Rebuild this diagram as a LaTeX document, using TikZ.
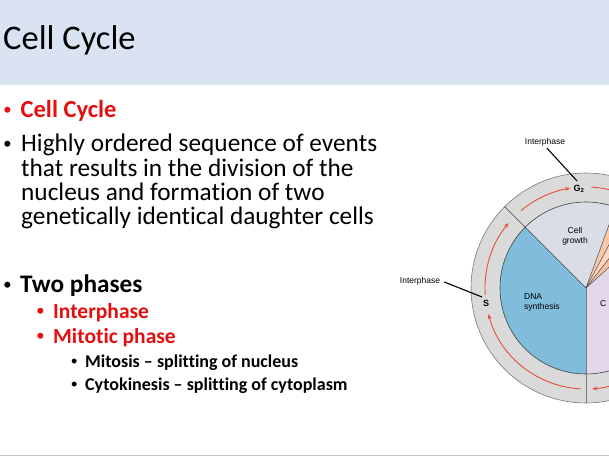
\documentclass[tikz,border=0pt]{standalone}
\usepackage{fontspec}
\setmainfont{Carlito}[Ligatures=NoCommon]
\newfontfamily\diagfont{Liberation Sans}
\usetikzlibrary{arrows.meta}
\definecolor{band}{RGB}{218,227,242}
\definecolor{pptred}{RGB}{228,14,14}
\definecolor{ringgray}{RGB}{218,218,218}
\definecolor{dnablue}{RGB}{128,189,220}
\definecolor{growthgray}{RGB}{216,221,230}
\definecolor{mitpurple}{RGB}{227,215,234}
\definecolor{peachA}{RGB}{249,200,168}
\definecolor{peachB}{RGB}{251,214,190}
\definecolor{peachC}{RGB}{248,190,160}
\definecolor{arcred}{RGB}{228,80,60}
\definecolor{edgegray}{RGB}{120,120,120}
\tikzset{
  titletext/.style={anchor=base west, inner sep=0pt, font=\fontsize{34.5}{36}\selectfont},
  bodyline/.style={anchor=base west, inner sep=0pt, font=\fontsize{25.3}{26}\selectfont},
  redhead/.style={anchor=base west, inner sep=0pt, text=pptred, font=\fontsize{24.5}{26}\selectfont\bfseries},
  lvlonebold/.style={anchor=base west, inner sep=0pt, font=\fontsize{25.3}{26}\selectfont\bfseries},
  lvltwo/.style={anchor=base west, inner sep=0pt, text=pptred, font=\fontsize{21.5}{24}\selectfont\bfseries},
  lvlthree/.style={anchor=base west, inner sep=0pt, font=\fontsize{18}{20}\selectfont\bfseries},
  bulletbig/.style={anchor=base west, inner sep=0pt, font=\diagfont\fontsize{22}{22}\selectfont},
  bulletsmall/.style={anchor=base west, inner sep=0pt, font=\diagfont\fontsize{18}{18}\selectfont},
  dlabel/.style={inner sep=0pt, font=\diagfont\fontsize{8.5}{10}\selectfont, align=center},
  dphase/.style={inner sep=0pt, font=\diagfont\fontsize{9}{10}\selectfont\bfseries},
  redarc/.style={draw=arcred, line width=0.9pt, -{Stealth[length=5pt,width=4pt]}},
  redline/.style={draw=arcred, line width=0.9pt},
  leader/.style={draw=black, line width=1.1pt},
  divider/.style={draw=black!75, line width=0.6pt},
  wedgeline/.style={draw=black!70, line width=0.5pt}
}
\begin{document}
\begin{tikzpicture}[x=1pt,y=1pt]
\useasboundingbox (0,0) rectangle (609,457);
\begin{scope}
\clip (0,0) rectangle (609,457);
% title band
\fill[band] (0,372) rectangle (609,457);
\node[titletext] (title) at (3,407) {Cell Cycle};
% bottom rule
\draw[black!22, line width=1.2pt] (0,1.2) -- (609,1.2);

% bullets text
\node[bulletbig, text=pptred] (b1) at (3.3,339) {•};
\node[redhead] (t1) at (20.5,339) {Cell Cycle};
\node[bulletbig] (b2) at (3.3,305) {•};
\node[bodyline] (t2a) at (21,305) {Highly ordered sequence of events};
\node[bodyline] (t2b) at (21,280) {that results in the division of the};
\node[bodyline] (t2c) at (21,256) {nucleus and formation of two};
\node[bodyline] (t2d) at (21,232) {genetically identical daughter cells};
\node[bulletbig] (b3) at (3.3,164) {•};
\node[lvlonebold] (t3) at (20,164) {Two phases};
\node[bulletbig, text=pptred] (b4) at (36.5,138) {•};
\node[lvltwo] (t4) at (53,138) {Interphase};
\node[bulletbig, text=pptred] (b5) at (36.5,113) {•};
\node[lvltwo] (t5) at (53,113) {Mitotic phase};
\node[bulletsmall] (b6) at (71,89) {•};
\node[lvlthree] (t6) at (85,89) {Mitosis – splitting of nucleus};
\node[bulletsmall] (b7) at (71,66) {•};
\node[lvlthree] (t7) at (85,66) {Cytokinesis – splitting of cytoplasm};

% cell cycle diagram
\coordinate (C) at (586,169);
\fill[ringgray, draw=edgegray, line width=0.6pt] (C) circle[radius=115pt];
\fill[dnablue] (C) -- +(135:86pt) arc[start angle=135, end angle=270, radius=86pt] -- cycle;
\fill[growthgray] (C) -- +(70:86pt) arc[start angle=70, end angle=135, radius=86pt] -- cycle;
\fill[peachA] (C) -- +(62:86pt) arc[start angle=62, end angle=70, radius=86pt] -- cycle;
\fill[peachB] (C) -- +(52:86pt) arc[start angle=52, end angle=62, radius=86pt] -- cycle;
\fill[peachC] (C) -- +(42:86pt) arc[start angle=42, end angle=52, radius=86pt] -- cycle;
\fill[mitpurple] (C) -- +(-90:86pt) arc[start angle=-90, end angle=42, radius=86pt] -- cycle;
\draw[wedgeline] (C) -- +(70:86pt);
\draw[wedgeline] (C) -- +(62:86pt);
\draw[wedgeline] (C) -- +(52:86pt);
\draw[wedgeline] (C) -- +(42:86pt);
\draw[divider] (C) circle[radius=86pt];
\draw[divider] (C) -- +(135:115pt);
\draw[draw=edgegray, line width=0.6pt] (C) -- +(270:115pt);

% red cycle arrows
\draw[redarc] (C) ++(267:101pt) arc[start angle=267, end angle=195, radius=101pt];
\draw[redarc] (C) ++(184:101pt) arc[start angle=184, end angle=140, radius=101pt];
\draw[redarc] (C) ++(130:101pt) arc[start angle=130, end angle=99, radius=101pt];
\draw[redline] (C) ++(87:101pt) arc[start angle=87, end angle=70, radius=101pt];
\draw[redarc] (C) ++(-70:101pt) arc[start angle=-70, end angle=-86.5, radius=101pt];

% labels
\node[dphase] (g2) at (579,268) {G\textsubscript{2}};
\node[dphase] (s) at (486,154) {S};
\node[dlabel] (ip1) at (545,315) {Interphase};
\node[dlabel] (ip2) at (420,176) {Interphase};
\coordinate (ip1end) at (577,276);
\coordinate (ip2end) at (482,160);
\draw[leader] (ip1.south) ++(2,-2) -- (ip1end);
\draw[leader] (ip2.east) ++(4,-1) -- (ip2end);
\node[dlabel] (growth) at (575,221) {Cell\\growth};
\node[dlabel, align=left, anchor=west] (dna) at (524,155) {DNA\\synthesis};
\node[dlabel, anchor=west] (cdiv) at (600,153) {C};
\end{scope}
\end{tikzpicture}
\end{document}
